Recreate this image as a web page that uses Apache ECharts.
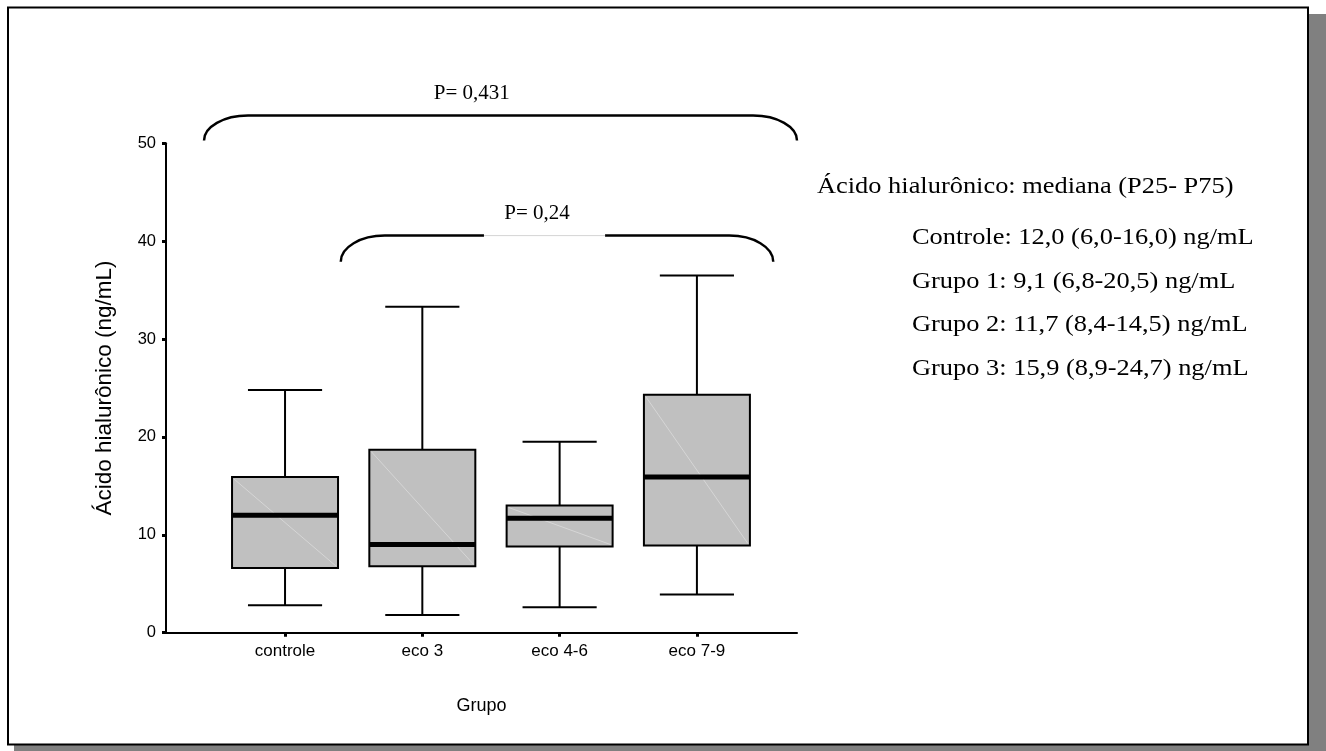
<!DOCTYPE html>
<html><head><meta charset="utf-8">
<script src="https://cdn.jsdelivr.net/npm/echarts@6/dist/echarts.min.js"></script>
<style>html,body{margin:0;padding:0;background:#fff;}#c{width:1326px;height:751px;}</style>
</head><body><div id="c"></div>
<script>
// ---- data ----
const categories = ['controle', 'eco 3', 'eco 4-6', 'eco 7-9'];
const whiskerLow = [2.8, 1.8, 2.6, 3.9];
const q1 = [6.6, 6.8, 8.8, 8.9];
const median = [12.0, 9.0, 11.7, 15.9];
const q3 = [15.9, 18.7, 13.0, 24.3];
const whiskerHigh = [24.8, 33.3, 19.5, 36.5];
const yTickStep = 10;
const yMin = 0, yMax = 50;
const xName = 'Grupo';
const yName = 'Ácido hialurônico (ng/mL)';

// significance braces (data units: x = group position, y = ng/mL)
const pLabels = ['P= 0,431', 'P= 0,24'];
const braceFrom = [0.41, 1.406];
const braceTo = [4.729, 4.556];
const braceTop = [52.83, 40.57];
const braceEnd = [50.28, 37.91];
const braceGapFrom = [null, 2.449];
const braceGapTo = [null, 3.331];
const pLabelX = [2.36, 2.835];

const summaryTitle = 'Ácido hialurônico: mediana (P25- P75)';
const summaryLines = [
  'Controle: 12,0 (6,0-16,0) ng/mL',
  'Grupo 1: 9,1 (6,8-20,5) ng/mL',
  'Grupo 2: 11,7 (8,4-14,5) ng/mL',
  'Grupo 3: 15,9 (8,9-24,7) ng/mL'
];

// ---- chart ----
const positions = categories.map((c, i) => i + 1);
const boxData = categories.map((c, i) => [positions[i], whiskerLow[i], q1[i], median[i], q3[i], whiskerHigh[i]]);
const braceData = pLabels.map((t, i) => [braceFrom[i], braceTo[i], braceTop[i], braceEnd[i],
  braceGapFrom[i] == null ? NaN : braceGapFrom[i], braceGapTo[i] == null ? NaN : braceGapTo[i], pLabelX[i]]);

const SERIF = '"Liberation Serif","Times New Roman",serif';
const SANS = '"Liberation Sans",Arial,sans-serif';

function renderBox(params, api) {
  const x = api.value(0);
  const lo = api.coord([x, api.value(1)]);
  const b1 = api.coord([x, api.value(2)]);
  const md = api.coord([x, api.value(3)]);
  const b3 = api.coord([x, api.value(4)]);
  const hi = api.coord([x, api.value(5)]);
  const band = api.size([1, 0])[0];
  const hw = band * 0.386, cw = band * 0.27;
  const cx = lo[0];
  const ls = { stroke: '#000', lineWidth: 2 };
  return {
    type: 'group',
    children: [
      { type: 'line', shape: { x1: cx, y1: hi[1], x2: cx, y2: b3[1] }, style: ls },
      { type: 'line', shape: { x1: cx, y1: b1[1], x2: cx, y2: lo[1] }, style: ls },
      { type: 'line', shape: { x1: cx - cw, y1: hi[1], x2: cx + cw, y2: hi[1] }, style: ls },
      { type: 'line', shape: { x1: cx - cw, y1: lo[1], x2: cx + cw, y2: lo[1] }, style: ls },
      { type: 'rect', shape: { x: cx - hw, y: b3[1], width: 2 * hw, height: b1[1] - b3[1] },
        style: { fill: '#c0c0c0', stroke: '#000', lineWidth: 2 } },
      { type: 'line', shape: { x1: cx - hw + 2, y1: b3[1] + 2, x2: cx + hw - 2, y2: b1[1] - 2 },
        style: { stroke: '#d6d6d6', lineWidth: 1 } },
      { type: 'line', shape: { x1: cx - hw, y1: md[1], x2: cx + hw, y2: md[1] },
        style: { stroke: '#000', lineWidth: 5 } }
    ]
  };
}

function renderBrace(params, api) {
  const i = params.dataIndex;
  const L = api.coord([api.value(0), api.value(3)]);
  const R = api.coord([api.value(1), api.value(3)]);
  const T = api.coord([api.value(0), api.value(2)]);
  const yT = T[1], yE = L[1];
  const ry = yE - yT, rx = 44, k = 0.5523;
  const x1 = L[0], x2 = R[0];
  const d = 'M' + x1 + ' ' + yE +
    ' C' + x1 + ' ' + (yE - ry * k) + ' ' + (x1 + rx - rx * k) + ' ' + yT + ' ' + (x1 + rx) + ' ' + yT +
    ' L' + (x2 - rx) + ' ' + yT +
    ' C' + (x2 - rx + rx * k) + ' ' + yT + ' ' + x2 + ' ' + (yE - ry * k) + ' ' + x2 + ' ' + yE;
  const children = [
    { type: 'path', shape: { pathData: d }, style: { fill: null, stroke: '#000', lineWidth: 2.5 } }
  ];
  const g0 = api.value(4), g1 = api.value(5);
  if (!isNaN(g0)) {
    const a = api.coord([g0, api.value(2)])[0], b = api.coord([g1, api.value(2)])[0];
    children.push({ type: 'line', shape: { x1: a, y1: yT, x2: b, y2: yT }, style: { stroke: '#fff', lineWidth: 4 } });
    children.push({ type: 'line', shape: { x1: a, y1: yT, x2: b, y2: yT }, style: { stroke: '#d4d4d4', lineWidth: 1 } });
  }
  const lx = api.coord([api.value(6), api.value(2)])[0];
  children.push({ type: 'text', x: lx, y: yT - 22,
    style: { text: pLabels[i], font: '21px ' + SERIF, fill: '#000', align: 'center', verticalAlign: 'middle' } });
  return { type: 'group', children };
}

const graphics = [
  { type: 'rect', z: -20, silent: true, shape: { x: 14, y: 14, width: 1330, height: 760 }, style: { fill: '#808080' } },
  { type: 'rect', z: -19, silent: true, shape: { x: 8, y: 7.5, width: 1300, height: 737 }, style: { fill: '#fff', stroke: '#000', lineWidth: 2 } },
  { type: 'text', x: 817, y: 187, scaleX: 1.1, scaleY: 1, style: { text: summaryTitle, font: '24px ' + SERIF, fill: '#000', align: 'left', verticalAlign: 'middle' } }
];
const lineY = [238, 282, 325, 369];
summaryLines.forEach((t, i) => {
  graphics.push({ type: 'text', x: 912, y: lineY[i], scaleX: 1.1, scaleY: 1,
    style: { text: t, font: '24px ' + SERIF, fill: '#000', align: 'left', verticalAlign: 'middle' } });
});

const chart = echarts.init(document.getElementById('c'), null, { renderer: 'canvas' });
chart.setOption({
  animation: false,
  backgroundColor: '#fff',
  grid: { left: 166, right: 529, top: 143.3, bottom: 118.3, containLabel: false, outerBoundsMode: 'none' },
  xAxis: {
    type: 'value', min: 0.133, max: 4.729,
    name: xName, nameLocation: 'middle', nameGap: 64,
    nameTextStyle: { fontFamily: SANS, fontSize: 18, color: '#000' },
    axisLine: { show: true, onZero: false, lineStyle: { color: '#000', width: 2 } },
    axisTick: { show: true, customValues: positions, length: 4, lineStyle: { color: '#000', width: 3 } },
    axisLabel: { customValues: positions, formatter: v => categories[Math.round(v) - 1], margin: 10,
      fontFamily: SANS, fontSize: 17, color: '#000' },
    splitLine: { show: false }
  },
  yAxis: {
    type: 'value', min: yMin, max: yMax, interval: yTickStep,
    name: yName, nameLocation: 'middle', nameGap: 50, nameRotate: 90,
    nameTextStyle: { fontFamily: SANS, fontSize: 22.5, color: '#000' },
    axisLine: { show: true, onZero: false, lineStyle: { color: '#000', width: 2 } },
    axisTick: { show: true, length: 4, lineStyle: { color: '#000', width: 3 } },
    axisLabel: { margin: 10, fontFamily: SANS, fontSize: 16.5, color: '#000' },
    splitLine: { show: false }
  },
  graphic: graphics,
  series: [
    { type: 'custom', renderItem: renderBox, data: boxData, encode: { x: 0, y: [1, 2, 3, 4, 5] }, z: 3 },
    { type: 'custom', renderItem: renderBrace, data: braceData, clip: false, encode: { x: [0, 1], y: [2, 3] }, z: 4 }
  ]
});
</script>
</body></html>
